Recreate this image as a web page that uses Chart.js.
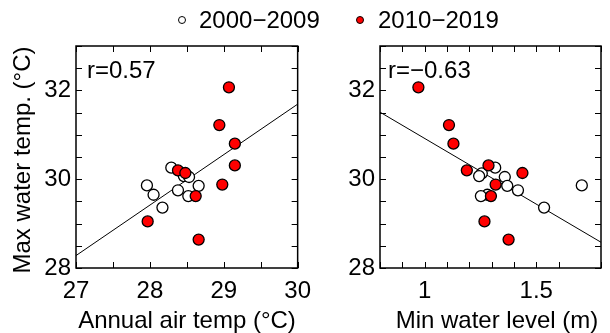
<!DOCTYPE html>
<html>
<head>
<meta charset="utf-8">
<script src="https://cdn.jsdelivr.net/npm/chart.js@4"></script>
<style>
  body { margin: 0; background: #fff; font-family: "Liberation Sans", Arial, sans-serif; }
  #wrap { position: relative; width: 610px; height: 333px; overflow: hidden; }
  canvas { position: absolute; top: 0; }
  .txt { position: absolute; font-size: 24px; line-height: 24px; color: #000; white-space: nowrap; }
  .dot { position: absolute; width: 6px; height: 6px; border: 1.3px solid #000; border-radius: 50%; }
</style>
</head>
<body>
<div id="wrap">
  <canvas id="airChart" style="left:0" width="320" height="333"></canvas>
  <canvas id="levelChart" style="left:300px" width="310" height="333"></canvas>

  <div class="dot" style="left:178px;top:16px;background:#fff"></div>
  <div class="txt" style="left:199px;top:8px">2000−2009</div>
  <div class="dot" style="left:356px;top:16px;background:#ff0000"></div>
  <div class="txt" style="left:378px;top:8px">2010−2019</div>

  <div class="txt" style="left:87px;top:58px">r=0.57</div>
  <div class="txt" style="left:388px;top:58px">r=−0.63</div>

  <div class="txt" style="left:-128px;top:148px;width:300px;text-align:center;transform:rotate(-90deg)">Max water temp. (°C)</div>
  <div class="txt" style="left:37px;top:308px;width:300px;text-align:center">Annual air temp (°C)</div>
  <div class="txt" style="left:347px;top:308px;width:300px;text-align:center">Min water level (m)</div>
</div>

<script>
// Data
const decadeLabels = ['2000−2009', '2010−2019'];

// 2000-2009 (open circles)
const maxTemp00 = [30.26, 30.13, 30.07, 30.05, 29.86, 29.85, 29.75, 29.65, 29.62, 29.36];
const airTemp00 = [28.29, 28.45, 28.46, 28.53, 27.96, 28.66, 28.38, 28.05, 28.52, 28.17];
const level00   = [1.316, 1.256, 1.244, 1.359, 1.704, 1.370, 1.418, 1.281, 1.252, 1.535];

// 2010-2019 (red dots)
const maxTemp10 = [32.07, 31.22, 30.80, 30.31, 30.20, 30.14, 29.88, 29.62, 29.05, 28.64];
const airTemp10 = [29.07, 28.94, 29.15, 29.15, 28.38, 28.48, 28.98, 28.62, 27.97, 28.66];
const level10   = [0.972, 1.109, 1.129, 1.286, 1.189, 1.438, 1.318, 1.297, 1.268, 1.376];

// regression lines (ends at the axis limits)
const airFitX = [27, 30];
const airFitY = [28.28, 31.69];
const levelFitX = [0.8, 1.79];
const levelFitY = [31.51, 28.58];

// axis limits / ticks
const yRange = [28, 33];
const airRange = [27, 30];
const levelRange = [0.8, 1.79];
const yTickLabels = [28, 30, 32];
const airTickLabels = [27, 28, 29, 30];
const levelTickLabels = [1, 1.5];

Chart.defaults.font.family = '"Liberation Sans", Arial, sans-serif';
Chart.defaults.color = '#000';

function pairs(xs, ys) {
  return xs.map((x, i) => ({ x: x, y: ys[i] }));
}

function hasLabel(list, v) {
  return list.some(l => Math.abs(l - v) < 1e-6);
}

// box around plot + inward tick marks on all four sides
const framePlugin = {
  id: 'frame',
  afterDatasetsDraw(chart) {
    const ctx = chart.ctx;
    const a = chart.chartArea;
    const xs = chart.scales.x, ys = chart.scales.y;
    ctx.save();
    ctx.strokeStyle = '#000';
    ctx.lineWidth = 1;
    ctx.beginPath();
    xs.ticks.forEach(t => {
      const px = Math.round(xs.getPixelForValue(t.value)) + 0.5;
      ctx.moveTo(px, a.bottom); ctx.lineTo(px, a.bottom - 6);
      ctx.moveTo(px, a.top); ctx.lineTo(px, a.top + 6);
    });
    ys.ticks.forEach(t => {
      const py = Math.round(ys.getPixelForValue(t.value)) + 0.5;
      ctx.moveTo(a.left, py); ctx.lineTo(a.left + 6, py);
      ctx.moveTo(a.right, py); ctx.lineTo(a.right - 6, py);
    });
    ctx.stroke();
    ctx.lineWidth = 1.5;
    ctx.strokeRect(a.left, a.top, a.right - a.left, a.bottom - a.top);
    ctx.restore();
  }
};

function makeChart(id, xs00, xs10, fitX, fitY, xRange, xStep, xLabels, yWidth, padRight) {
  return new Chart(document.getElementById(id), {
    type: 'scatter',
    data: {
      datasets: [
        {
          label: decadeLabels[1],
          data: pairs(xs10, maxTemp10),
          backgroundColor: '#ff0000',
          borderColor: '#000',
          borderWidth: 1.3,
          pointRadius: 5.5
        },
        {
          label: decadeLabels[0],
          data: pairs(xs00, maxTemp00),
          backgroundColor: '#fff',
          borderColor: '#000',
          borderWidth: 1.3,
          pointRadius: 5.5
        },
        {
          type: 'line',
          label: 'fit',
          data: pairs(fitX, fitY),
          borderColor: '#000',
          borderWidth: 1,
          pointRadius: 0,
          fill: false
        }
      ]
    },
    options: {
      responsive: false,
      animation: false,
      layout: { padding: { top: 46, right: padRight, left: 0, bottom: 0 } },
      plugins: { legend: { display: false }, tooltip: { enabled: false } },
      scales: {
        x: {
          type: 'linear',
          min: xRange[0],
          max: xRange[1],
          afterFit: s => { s.height = 65; },
          grid: { display: false, drawTicks: false },
          border: { display: false },
          ticks: {
            stepSize: xStep,
            autoSkip: false,
            maxRotation: 0,
            padding: 9,
            font: { size: 24 },
            callback: v => hasLabel(xLabels, v) ? String(v) : ''
          }
        },
        y: {
          min: yRange[0],
          max: yRange[1],
          afterFit: s => { s.width = yWidth; },
          grid: { display: false, drawTicks: false },
          border: { display: false },
          ticks: {
            stepSize: 0.5,
            autoSkip: false,
            padding: 5,
            font: { size: 24 },
            callback: v => hasLabel(yTickLabels, v) ? String(v) : ''
          }
        }
      }
    },
    plugins: [framePlugin]
  });
}

makeChart('airChart', airTemp00, airTemp10, airFitX, airFitY, airRange, 0.5, airTickLabels, 76, 21);
makeChart('levelChart', level00, level10, levelFitX, levelFitY, levelRange, 0.1, levelTickLabels, 80, 7);
</script>
</body>
</html>
